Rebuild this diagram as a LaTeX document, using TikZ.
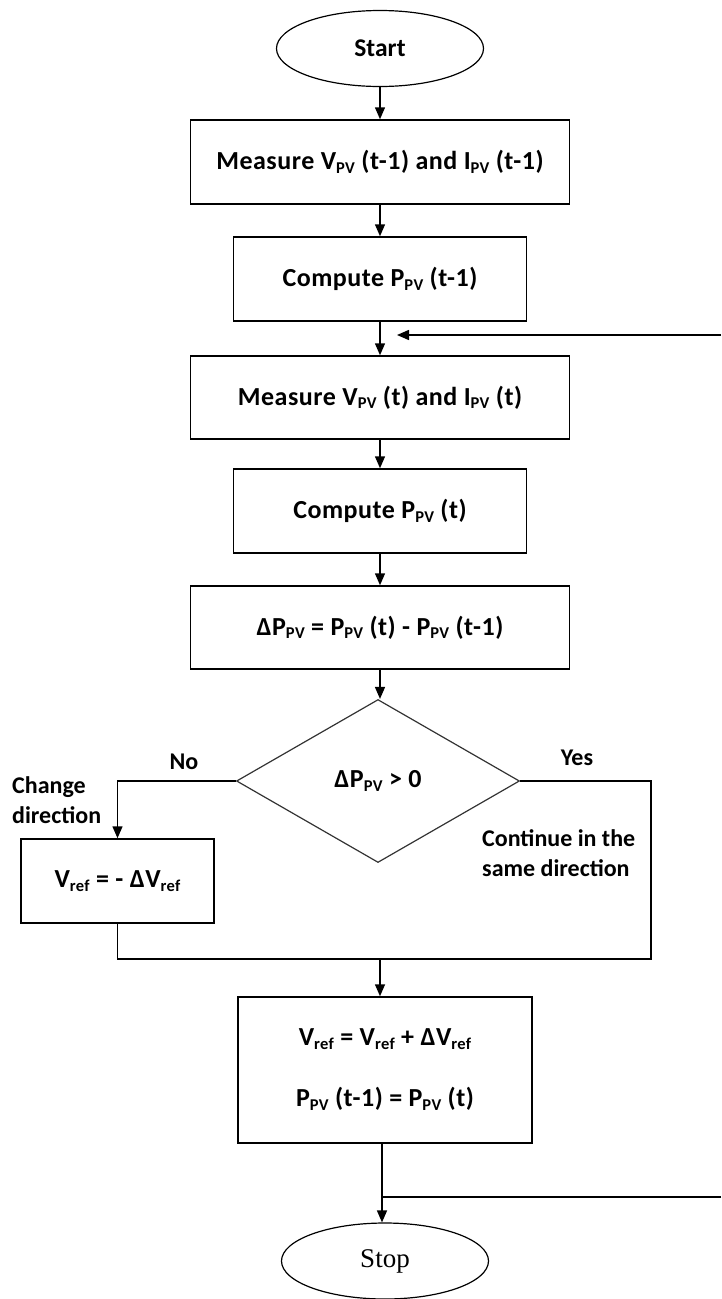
\documentclass[tikz,border=0pt]{standalone}
\usepackage{fontspec}
\setmainfont{Carlito}
\newfontfamily\boxf[LetterSpace=2]{Carlito}
\newfontfamily\timesf{Liberation Serif}
\usetikzlibrary{shapes.geometric,arrows.meta}
\newcommand\sbs[1]{\raisebox{-0.3ex}{\fontsize{16.5}{16.5}\selectfont #1}}
\begin{document}
\begin{tikzpicture}[x=1pt,y=-1pt,
  txt/.style={font=\fontsize{26}{30}\selectfont\boxf\bfseries},
  lbl/.style={font=\fontsize{24}{30}\selectfont\bfseries},
  box/.style={draw, line width=1.5pt, rectangle, inner sep=0pt, txt, align=center},
  term/.style={draw, line width=1.2pt, ellipse, inner sep=0pt, minimum width=207pt, minimum height=76pt},
  dec/.style={draw=black!80, line width=1.2pt, diamond, inner sep=0pt, minimum width=283pt, minimum height=163pt, txt},
  conn/.style={line width=1.5pt},
  arr/.style={conn, -{Triangle[width=10pt,length=12pt]}}]
\useasboundingbox (0,0) rectangle (721,1299);
\node[term, font=\fontsize{25.5}{30}\selectfont\bfseries] (start) at (380,48.5) {Start};
\node[box, minimum width=379pt, minimum height=84pt] (m1) at (380,162) {Measure V\sbs{PV} (t-1) and I\sbs{PV} (t-1)};
\node[box, minimum width=293pt, minimum height=84pt] (c1) at (380,279) {Compute P\sbs{PV} (t-1)};
\node[box, minimum width=379pt, minimum height=83pt] (m2) at (380,397.5) {Measure V\sbs{PV} (t) and I\sbs{PV} (t)};
\node[box, minimum width=293pt, minimum height=84pt] (c2) at (380,511) {Compute P\sbs{PV} (t)};
\node[box, minimum width=379pt, minimum height=83pt] (dp) at (380,627.5) {ΔP\sbs{PV} = P\sbs{PV} (t) - P\sbs{PV} (t-1)};
\node[dec] (dec) at (378,781) {ΔP\sbs{PV} > 0};
\node[box, minimum width=193pt, minimum height=84pt] (neg) at (117.5,881) {V\sbs{ref} = - ΔV\sbs{ref}};
\node[box, minimum width=294pt, minimum height=146pt] (upd) at (385,1070) {V\sbs{ref} = V\sbs{ref} + ΔV\sbs{ref}\\[31pt]P\sbs{PV} (t-1) = P\sbs{PV} (t)};
\node[term, font=\fontsize{27}{30}\selectfont\timesf] (stop) at (385,1261) {Stop};
\node[lbl] (no) at (184,762) {No};
\node[lbl] (yes) at (577,758) {Yes};
\node[lbl, anchor=west, align=left, inner sep=0pt] (chg) at (12,800) {Change\\direction};
\node[lbl, anchor=west, align=left, inner sep=0pt] (cont) at (482,853) {Continue in the\\same direction};
\draw[arr] (start) -- (m1);
\draw[arr] (m1) -- (c1);
\draw[arr] (c1) -- (m2);
\draw[arr] (m2) -- (c2);
\draw[arr] (c2) -- (dp);
\draw[arr] (dp.south) -- (dp.south |- dec.north);
\coordinate (fbin) at (721,335);
\coordinate (fbtip) at (397,335);
\draw[arr] (fbin) -- (fbtip);
\draw[arr] (dec.west) -| (neg.north);
\coordinate (join) at (380,959);
\coordinate (rj) at (651,959);
\draw[conn] (neg.south) |- (rj) |- (dec.east);
\draw[arr] (join) -- (join |- upd.north);
\coordinate (fbout) at (721,1197);
\coordinate (fbjoin) at (382,1197);
\draw[conn] (fbout) -- (fbjoin);
\draw[arr] (upd.south -| fbjoin) -- (stop.north -| fbjoin);
\end{tikzpicture}
\end{document}
